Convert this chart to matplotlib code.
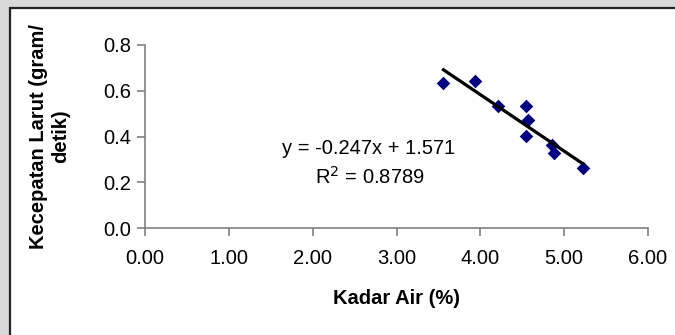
import numpy as np
import matplotlib.pyplot as plt
from matplotlib.patches import Rectangle

# data
kadar_air = [3.56, 3.94, 4.21, 4.54, 4.57, 4.54, 4.86, 4.88, 5.22]
kecepatan = [0.633, 0.643, 0.534, 0.535, 0.470, 0.403, 0.364, 0.327, 0.263]
slope = -0.247
intercept = 1.571
r2 = 0.8789
xticks = [0, 1, 2, 3, 4, 5, 6]
yticks = [0.0, 0.2, 0.4, 0.6, 0.8]

plt.rcParams['font.family'] = ['Liberation Sans', 'DejaVu Sans']

W, H = 675, 335
fig = plt.figure(figsize=(W / 100, H / 100), dpi=100)
fig.patch.set_facecolor('#d9d9d9')

# white chart area with dark border at top/left
fig.patches.append(Rectangle((9.5 / W, -0.1), 1, 1.1 - 8 / H, transform=fig.transFigure,
                             facecolor='white', edgecolor='#222222', linewidth=1.6,
                             zorder=-5))

ax = fig.add_axes([145 / W, 1 - 228 / H, (648 - 145) / W, (228 - 45) / H])
ax.set_facecolor('none')
ax.set_zorder(2)

ax.scatter(kadar_air, kecepatan, marker='D', s=48, color='#000080', zorder=3,
           linewidths=0)

xl = np.array([min(kadar_air), max(kadar_air)])
ax.plot(xl, slope * xl + intercept, color='black', lw=2.3, zorder=4)

ax.set_xlim(0, 6)
ax.set_ylim(0, 0.8)
ax.set_xticks(xticks)
ax.set_xticklabels(['%.2f' % v for v in xticks])
ax.set_yticks(yticks)
ax.set_yticklabels(['%.1f' % v for v in yticks])

for s in ['top', 'right']:
    ax.spines[s].set_visible(False)
for s in ['left', 'bottom']:
    ax.spines[s].set_color('#808080')
    ax.spines[s].set_linewidth(1.2)

ax.tick_params(axis='both', colors='#808080', labelcolor='black', labelsize=14.5,
               length=6, width=1.2, direction='out')
ax.tick_params(axis='x', pad=9)
ax.tick_params(axis='y', pad=4)

ax.set_xlabel('Kadar Air (%)', fontsize=14.5, fontweight='bold', labelpad=15)
ax.set_ylabel('Kecepatan Larut (gram/\ndetik)', fontsize=14.5, fontweight='bold',
              labelpad=24, linespacing=1.2)

fig.text(369 / W, 1 - 148 / H, 'y = -0.247x + 1.571', fontsize=14.5,
         ha='center', va='center')
fig.text(370 / W, 1 - 177 / H, 'R$^2$ = %.4f' % r2, fontsize=14.5,
         ha='center', va='center')

fig.savefig('out.png', dpi=100, facecolor=fig.get_facecolor())
